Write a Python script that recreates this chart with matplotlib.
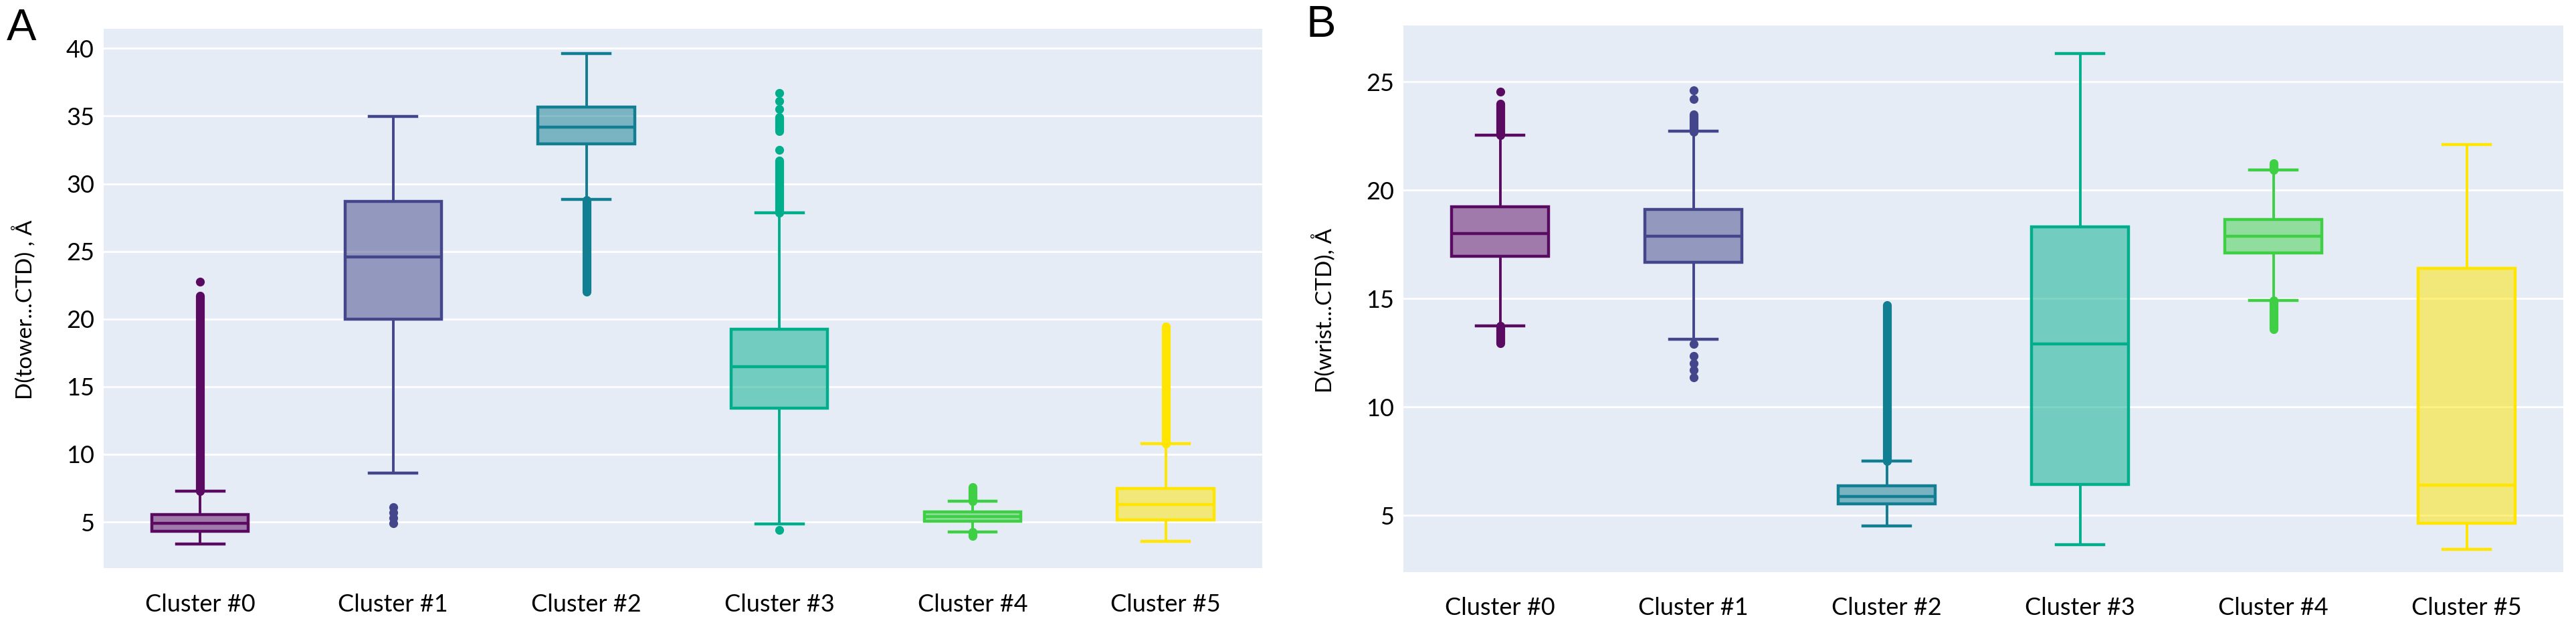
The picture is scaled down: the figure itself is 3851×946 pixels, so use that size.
import matplotlib.pyplot as plt

# categories and colours
clusters = ['Cluster #0', 'Cluster #1', 'Cluster #2', 'Cluster #3', 'Cluster #4', 'Cluster #5']
colors = ['#5a0a60', '#43468a', '#117e92', '#00ae8c', '#3fcf45', '#ffe500']

# panel A: D(tower...CTD)
a_q1 = [4.30, 20.0, 32.94, 13.43, 5.06, 5.15]
a_med = [4.90, 24.6, 34.19, 16.47, 5.39, 6.28]
a_q3 = [5.55, 28.7, 35.68, 19.24, 5.74, 7.47]
a_lo = [3.37, 8.6, 28.83, 4.85, 4.26, 3.57]
a_hi = [7.27, 34.95, 39.64, 27.85, 6.55, 10.81]
# single outliers
a_pts = [[22.75], [4.9, 5.3, 5.7, 6.1], [], [4.4, 32.5, 35.5, 36.1, 36.7], [], []]
# stretches where outliers overlap into a solid column
a_bands = [[(7.3, 21.7)], [], [(22.0, 28.8)], [(27.85, 31.7), (33.9, 34.9)],
           [(6.55, 7.6), (3.95, 4.26)], [(10.8, 19.45)]]

# panel B: D(wrist...CTD)
b_q1 = [16.96, 16.67, 5.52, 6.43, 17.09, 4.63]
b_med = [17.99, 17.89, 5.87, 12.91, 17.87, 6.40]
b_q3 = [19.23, 19.12, 6.36, 18.30, 18.64, 16.39]
b_lo = [13.73, 13.13, 4.50, 3.64, 14.92, 3.42]
b_hi = [22.54, 22.71, 7.51, 26.30, 20.94, 22.12]
b_pts = [[24.55], [24.2, 24.6, 12.9, 12.35, 12.0, 11.7, 11.35], [], [], [], []]
b_bands = [[(22.54, 24.0), (12.95, 13.73)], [(22.7, 23.5)], [(7.5, 14.7)], [],
           [(20.94, 21.25), (13.6, 14.92)], []]

BG = '#E5ECF6'
plt.rcParams['font.family'] = ['Lato', 'DejaVu Sans']


def draw_panel(ax, q1, med, q3, lo, hi, pts, bands, ylim, yticks, ylabel, letter):
    ax.set_facecolor(BG)
    for s in ax.spines.values():
        s.set_visible(False)
    ax.set_axisbelow(True)
    ax.grid(axis='y', color='white', linewidth=2)

    for i in range(len(clusters)):
        c = colors[i]
        stats = [{'med': med[i], 'q1': q1[i], 'q3': q3[i],
                  'whislo': lo[i], 'whishi': hi[i], 'fliers': pts[i]}]
        bp = ax.bxp(stats, positions=[i], widths=0.5, capwidths=0.245,
                    patch_artist=True, showfliers=True,
                    boxprops=dict(facecolor=c, edgecolor=c, linewidth=3.2),
                    medianprops=dict(color=c, linewidth=3.2),
                    whiskerprops=dict(color=c, linewidth=2.8),
                    capprops=dict(color=c, linewidth=3.2),
                    flierprops=dict(marker='o', markerfacecolor=c, markeredgecolor=c,
                                    markersize=8.5))
        # half transparent fill, opaque edge
        r, g, bl, _ = plt.matplotlib.colors.to_rgba(c)
        for b in bp['boxes']:
            b.set_facecolor((r, g, bl, 0.5))
        for lo_b, hi_b in bands[i]:
            ax.plot([i, i], [lo_b, hi_b], color=c, linewidth=9.5,
                    solid_capstyle='round', zorder=3)

    ax.set_xlim(-0.5, len(clusters) - 0.5)
    ax.set_ylim(*ylim)
    ax.set_yticks(yticks)
    ax.set_xticks(range(len(clusters)))
    ax.set_xticklabels(clusters)
    ax.tick_params(axis='y', length=0, pad=10, labelsize=26)
    ax.tick_params(axis='x', length=0, pad=27, labelsize=26)
    ax.set_ylabel(ylabel, fontsize=24)
    ax.yaxis.set_label_coords(-0.058, 0.479)
    ax.text(-0.071, 1.0, letter, transform=ax.transAxes, fontsize=48,
            family='Liberation Sans', ha='center', va='center')


fig = plt.figure(figsize=(38.51, 9.46), dpi=100)
ax_a = fig.add_axes([0.0402, 0.1025, 0.4498, 0.852])
ax_b = fig.add_axes([0.5448, 0.0962, 0.4503, 0.8636])

draw_panel(ax_a, a_q1, a_med, a_q3, a_lo, a_hi, a_pts, a_bands,
           (1.59, 41.45), [5, 10, 15, 20, 25, 30, 35, 40], 'D(tower...CTD) , Å', 'A')
draw_panel(ax_b, b_q1, b_med, b_q3, b_lo, b_hi, b_pts, b_bands,
           (2.38, 27.6), [5, 10, 15, 20, 25], 'D(wrist...CTD), Å', 'B')

fig.savefig('out.png', dpi=100)
